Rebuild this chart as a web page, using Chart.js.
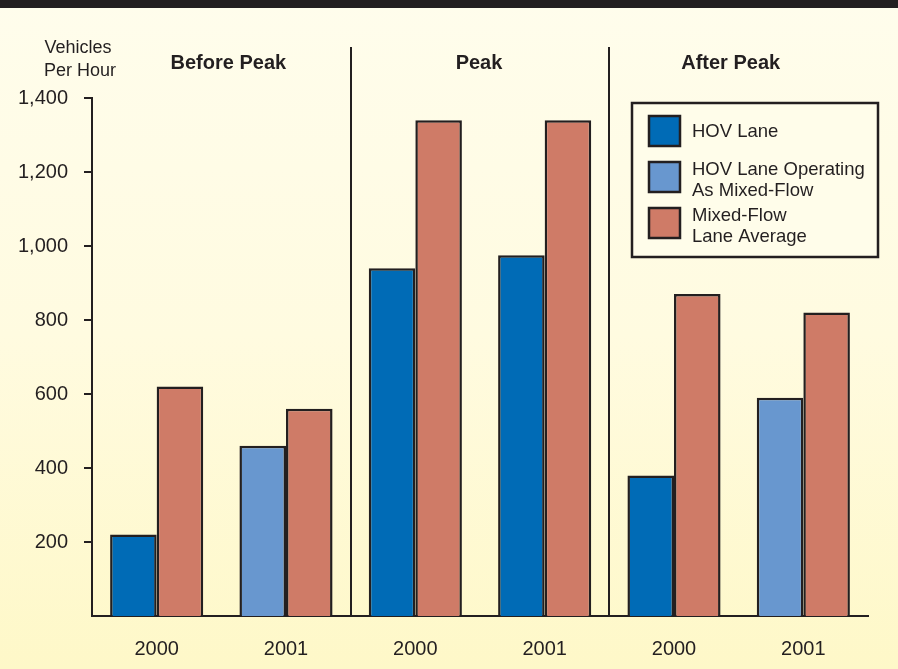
<!DOCTYPE html>
<html>
<head>
<meta charset="utf-8">
<script src="https://cdn.jsdelivr.net/npm/chart.js@4/dist/chart.umd.min.js"></script>
<style>
  html, body { margin: 0; padding: 0; }
  body {
    width: 898px; height: 669px; overflow: hidden;
    background: linear-gradient(to bottom, #fffdec 0%, #fffbe0 50%, #fef8c8 100%);
    position: relative;
  }
  #topbar { position: absolute; left: 0; top: 0; width: 898px; height: 8px; background: #231f20; }
  #wrap { position: absolute; left: 0; top: 0; width: 898px; height: 669px; }
</style>
</head>
<body>
<div id="topbar"></div>
<div id="wrap"><canvas id="barChart" width="898" height="669"></canvas></div>
<script>
// data
var years = ["2000", "2001", "2000", "2001", "2000", "2001"];
var periods = ["Before Peak", "Peak", "After Peak"];
var hovLane = [220, null, 940, 975, 380, null];
var hovMixed = [null, 460, null, null, null, 590];
var mixedFlow = [620, 560, 1340, 1340, 870, 820];
var yTicks = [200, 400, 600, 800, 1000, 1200, 1400];

var ink = '#231f20';
var font = '"Liberation Sans", Arial, sans-serif';

// draws period headings, dividers, axis title and the legend box
var extras = {
  id: 'extras',
  afterDraw: function(chart) {
    var c = chart.ctx, x = chart.scales.x, y = chart.scales.y;
    c.save();
    c.fillStyle = ink;
    c.strokeStyle = ink;

    // y title
    c.font = '18px ' + font;
    c.textAlign = 'center';
    c.textBaseline = 'middle';
    c.fillText('Vehicles', 78, 48);
    c.fillText('Per Hour', 80, 71);

    // dividers + headings
    c.lineWidth = 2;
    for (var i = 1; i < 3; i++) {
      var dx = Math.round((x.getPixelForValue(i * 2 - 1) + x.getPixelForValue(i * 2)) / 2);
      c.beginPath();
      c.moveTo(dx, 47);
      c.lineTo(dx, y.getPixelForValue(0));
      c.stroke();
    }
    c.font = 'bold 20px ' + font;
    var nudge = [7, -1, -8];
    periods.forEach(function(p, i) {
      var cx = (x.getPixelForValue(i * 2) + x.getPixelForValue(i * 2 + 1)) / 2;
      c.fillText(p, cx + nudge[i], 63);
    });

    // legend
    c.fillStyle = '#fffdea';
    c.fillRect(632, 103, 246, 154);
    c.lineWidth = 2.5;
    c.strokeRect(632, 103, 246, 154);
    var rows = [116, 162, 208];
    c.font = '18.5px ' + font;
    c.textAlign = 'left';
    chart.data.datasets.forEach(function(ds, i) {
      c.fillStyle = ds.backgroundColor;
      c.fillRect(649, rows[i], 31, 30);
      c.lineWidth = 2.5;
      c.strokeRect(649, rows[i], 31, 30);
      c.fillStyle = ink;
      var lines = ds.legendLines;
      if (lines.length === 1) {
        c.fillText(lines[0], 692, rows[i] + 16);
      } else {
        c.fillText(lines[0], 692, rows[i] + 8);
        c.fillText(lines[1], 692, rows[i] + 29);
      }
    });
    c.restore();
  }
};

var ctx = document.getElementById('barChart').getContext('2d');
var myBarChart = new Chart(ctx, {
  type: 'bar',
  data: {
    labels: years,
    datasets: [{
      label: 'HOV Lane',
      legendLines: ['HOV Lane'],
      data: hovLane,
      backgroundColor: '#006bb6',
      borderColor: ink,
      borderWidth: 2.5
    },
    {
      label: 'HOV Lane Operating As Mixed-Flow',
      legendLines: ['HOV Lane Operating', 'As Mixed-Flow'],
      data: hovMixed,
      backgroundColor: '#6897cf',
      borderColor: ink,
      borderWidth: 2.5
    },
    {
      label: 'Mixed-Flow Lane Average',
      legendLines: ['Mixed-Flow', 'Lane Average'],
      data: mixedFlow,
      backgroundColor: '#cf7b67',
      borderColor: ink,
      borderWidth: 2.5
    }]
  },
  options: {
    responsive: false,
    animation: false,
    skipNull: true,
    categoryPercentage: 0.72,
    barPercentage: 1.0,
    layout: { padding: { top: 98, right: 30, left: 0, bottom: 0 } },
    plugins: {
      legend: { display: false },
      tooltip: { enabled: false }
    },
    scales: {
      x: {
        grid: { display: false },
        border: { display: true, color: ink, width: 2 },
        ticks: {
          color: ink,
          padding: 13,
          font: { family: font, size: 20 }
        },
        afterFit: function(s) { s.height = 53; }
      },
      y: {
        min: 0,
        max: 1400,
        afterBuildTicks: function(s) { s.ticks = yTicks.map(function(v) { return { value: v }; }); },
        grid: { drawOnChartArea: false, drawTicks: true, tickLength: 8, color: ink, lineWidth: 2 },
        border: { display: true, color: ink, width: 2 },
        ticks: {
          color: ink,
          padding: 16,
          font: { family: font, size: 20 },
          callback: function(v) { return v.toLocaleString('en-US'); }
        },
        afterFit: function(s) { s.width = 92; }
      }
    }
  },
  plugins: [extras]
});
</script>
</body>
</html>
